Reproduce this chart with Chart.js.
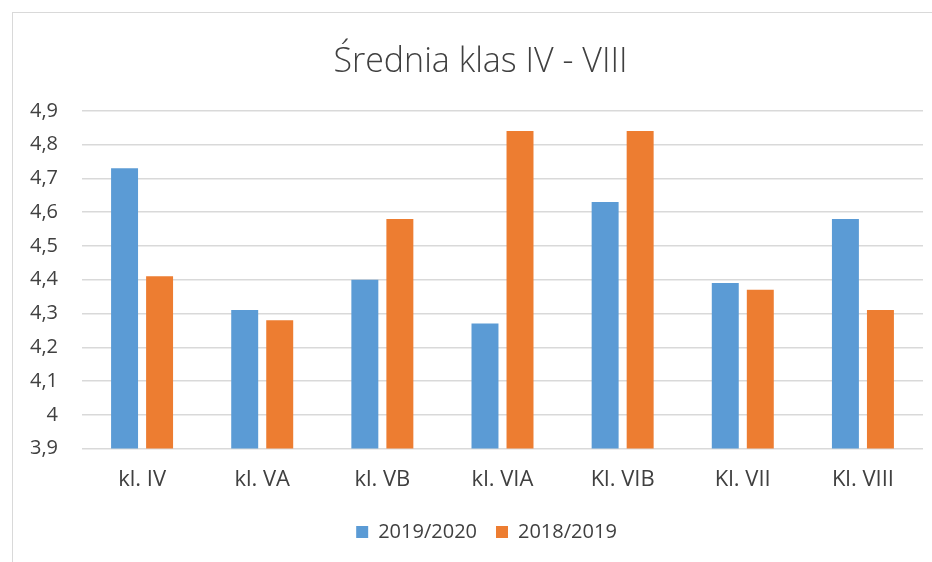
<!DOCTYPE html>
<html>
<head>
<meta charset="utf-8">
<script src="https://cdn.jsdelivr.net/npm/chart.js@4/dist/chart.umd.min.js"></script>
<style>
	html, body { margin: 0; padding: 0; background: #fff; overflow: hidden; }
	#wrap { position: relative; width: 932px; height: 562px; }
	#frame { position: absolute; left: 12px; top: 12px; width: 940px; height: 570px; border: 1.5px solid #d9d9d9; box-sizing: border-box; }
	#averageChart { position: absolute; left: 0; top: 0; }
</style>
</head>
<body>
<div id="wrap">
	<div id="frame"></div>
	<canvas id="averageChart" width="932" height="562"></canvas>
</div>
<script>
	const classLabels = ["kl. IV", "kl. VA", "kl. VB", "kl. VIA", "Kl. VIB", "Kl. VII", "Kl. VIII"];
	const year2019_2020 = [4.73, 4.31, 4.40, 4.27, 4.63, 4.39, 4.58];
	const year2018_2019 = [4.41, 4.28, 4.58, 4.84, 4.84, 4.37, 4.31];
	const yMin = 3.9, yMax = 4.9, yStep = 0.1;

	const textColor = "#404040";
	const gridColor = "#d9d9d9";

	// title and legend sit centred on the whole frame, not on the plot
	let shiftBoxes = {
		id: "shiftBoxes",
		afterLayout: function (chart) {
			chart.titleBlock.left += 19; chart.titleBlock.right += 19;
			chart.legend.left += 25; chart.legend.right += 25;
		}
	};

	let chart = new Chart("averageChart", {
		type: "bar",
		data: {
			labels: classLabels,
			datasets: [{
				label: "2019/2020",
				data: year2019_2020,
				backgroundColor: "#5b9bd5"
			}, {
				label: "2018/2019",
				data: year2018_2019,
				backgroundColor: "#ed7d31"
			}]
		},
		plugins: [shiftBoxes],
		options: {
			responsive: false,
			animation: false,
			layout: { padding: { left: 0, right: 9, top: 0, bottom: 10 } },
			datasets: {
				bar: { categoryPercentage: 0.583, barPercentage: 0.77 }
			},
			plugins: {
				title: {
					display: true,
					text: "Średnia klas IV - VIII",
					color: textColor,
					font: { family: "'Open Sans'", size: 34, weight: "300" },
					padding: { top: 42, bottom: 28 }
				},
				legend: {
					position: "bottom",
					labels: {
						color: textColor,
						font: { family: "'Open Sans'", size: 20 },
						boxWidth: 12, boxHeight: 12,
						padding: 19
					}
				},
				tooltip: { enabled: false }
			},
			scales: {
				x: {
					grid: { display: false },
					border: { display: false },
					ticks: {
						color: textColor,
						font: { family: "'Open Sans'", size: 22 },
						padding: 10
					}
				},
				y: {
					min: yMin, max: yMax,
					afterFit: function (scale) { scale.width = 82; },
					grid: { color: gridColor, lineWidth: 1.5, drawTicks: false },
					border: { display: false },
					ticks: {
						stepSize: yStep,
						color: textColor,
						font: { family: "'Open Sans'", size: 20 },
						padding: 24,
						callback: function (v) {
							return (Math.round(v * 10) / 10).toString().replace(".", ",");
						}
					}
				}
			}
		}
	});
</script>
</body>
</html>
